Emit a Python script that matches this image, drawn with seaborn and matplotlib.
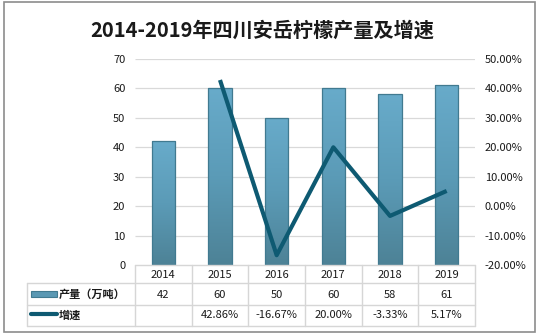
import numpy as np
import pandas as pd
import seaborn as sns
import matplotlib
matplotlib.use("Agg")
import matplotlib.pyplot as plt
import matplotlib.transforms as mtransforms
from matplotlib.patches import Rectangle
from matplotlib.lines import Line2D
from matplotlib.colors import LinearSegmentedColormap

# ---- data ----
years = ['2014', '2015', '2016', '2017', '2018', '2019']
output = [42, 60, 50, 60, 58, 61]
growth = [np.nan, 42.86, -16.67, 20.00, -3.33, 5.17]
growth_labels = ['', '42.86%', '-16.67%', '20.00%', '-3.33%', '5.17%']
left_ticks = [0, 10, 20, 30, 40, 50, 60, 70]
right_ticks = [-20, -10, 0, 10, 20, 30, 40, 50]
title = '2014-2019年四川安岳柠檬产量及增速'
label_output = '产量（万吨）'
label_growth = '增速'

sns.set_theme(style='white')
plt.rcParams['font.family'] = ['Noto Sans CJK SC', 'DejaVu Sans']
plt.rcParams['image.composite_image'] = False

W, H = 539, 336
fig = plt.figure(figsize=(W / 100, H / 100), dpi=100)
fig.patch.set_facecolor('white')


def rect_px(x0, y0, x1, y1):
    return [x0 / W, 1 - y1 / H, (x1 - x0) / W, (y1 - y0) / H]


ax = fig.add_axes(rect_px(135, 59, 475, 265))
df = pd.DataFrame({'year': years, 'output': output, 'growth': growth,
                   'pos': np.arange(len(years))})

BAR_EDGE = '#417a90'
LINE_C = '#0e5a72'
sns.barplot(data=df, x='year', y='output', ax=ax, width=0.41,
            color='#5b9bb8', edgecolor=BAR_EDGE, linewidth=0.9, zorder=3)

cmap = LinearSegmentedColormap.from_list('g', ['#4d8296', '#5b9bb7', '#68abca'])
grad = np.linspace(0, 1, 256).reshape(-1, 1)
for p in list(ax.patches):
    x0, y0 = p.get_x(), p.get_y()
    w, h = p.get_width(), p.get_height()
    ax.add_patch(Rectangle((x0, y0), w, h, facecolor='#5a96b0', edgecolor='none',
                           zorder=2.2))
    im = ax.imshow(grad, extent=[x0, x0 + w, y0, y0 + h], origin='lower',
                   aspect='auto', cmap=cmap, zorder=2.5, interpolation='bilinear')
    im.set_clip_path(p)
    p.set_facecolor('none')

ax.set_xlim(-0.5, len(years) - 0.5)
ax.set_ylim(0, 70)
ax.set_yticks(left_ticks)
ax.set_xticks([])
ax.set_xlabel('')
ax.set_ylabel('')
ax.grid(False)
ax.hlines(left_ticks[1:], -0.5, len(years) - 0.5, colors='#d9d9d9',
          linewidth=0.9, zorder=1)
for s in ax.spines.values():
    s.set_visible(False)
ax.tick_params(axis='y', length=0, pad=7, labelsize=8, labelcolor='#1a1a1a')

ax2 = ax.twinx()
sns.lineplot(data=df, x='pos', y='growth', ax=ax2, color=LINE_C,
             linewidth=3, solid_capstyle='butt', zorder=5)
ax2.set_ylim(-20, 50)
ax2.set_yticks(right_ticks)
ax2.set_yticklabels([f'{v:.2f}%' for v in right_ticks])
ax2.set_xlabel('')
ax2.set_ylabel('')
ax2.grid(False)
for s in ax2.spines.values():
    s.set_visible(False)
ax2.tick_params(axis='y', length=0, pad=7, labelsize=8, labelcolor='#1a1a1a')
ax2.set_xlim(-0.5, len(years) - 0.5)

# ---- title ----
fig.text(262.5 / W, 1 - 30 / H, title, ha='center', va='center',
         fontsize=14.5, fontweight='bold', color='#1a1a1a')

# ---- data table ----
GRID = '#d6d6d6'
blend = mtransforms.blended_transform_factory(ax.transData, fig.transFigure)


def fy(y):
    return 1 - y / H


n = len(years)
fig.add_artist(Line2D([135 / W, 475 / W], [fy(265), fy(265)], color=GRID, lw=1))
for yy in (283, 305, 326):
    fig.add_artist(Line2D([27 / W, 475 / W], [fy(yy), fy(yy)], color=GRID, lw=1))
for i in range(n + 1):
    fig.add_artist(Line2D([i - 0.5, i - 0.5], [fy(265), fy(326)], color=GRID,
                          lw=1, transform=blend))
fig.add_artist(Line2D([27 / W, 27 / W], [fy(283), fy(326)], color=GRID, lw=1))

for i, yr in enumerate(years):
    fig.text(i, fy(274.5), yr, transform=blend, ha='center', va='center',
             fontsize=8, color='#1a1a1a')
    fig.text(i, fy(294.5), str(output[i]), transform=blend, ha='center',
             va='center', fontsize=8, color='#1a1a1a')
    fig.text(i, fy(315.5), growth_labels[i], transform=blend, ha='center',
             va='center', fontsize=8, color='#1a1a1a')

key_rect = Rectangle((31 / W, fy(297)), 26 / W, 6 / H, transform=fig.transFigure,
                     facecolor='#5a98b3', edgecolor=BAR_EDGE, lw=0.8)
fig.add_artist(key_rect)
fig.add_artist(Line2D([31 / W, 57 / W], [fy(314), fy(314)], color=LINE_C, lw=3,
                      solid_capstyle='round'))
fig.text(59 / W, fy(294.5), label_output, ha='left', va='center', fontsize=8,
         fontweight='bold', color='#1a1a1a')
fig.text(59 / W, fy(315.5), label_growth, ha='left', va='center', fontsize=8,
         fontweight='bold', color='#1a1a1a')

fig.add_artist(Rectangle((4 / W, fy(332)), 531 / W, 330 / H, transform=fig.transFigure,
                         facecolor='none', edgecolor='#8c8c8c', lw=1.2))

fig.savefig('out.png', dpi=100)
